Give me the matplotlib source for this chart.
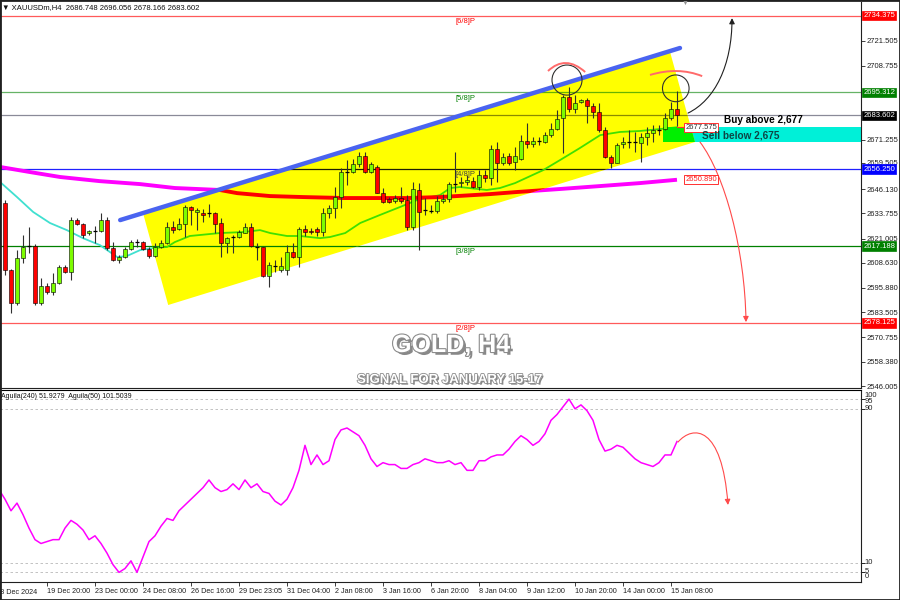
import matplotlib
matplotlib.use('Agg')
import matplotlib.pyplot as plt
import matplotlib.patheffects as pe
import matplotlib.transforms as mtransforms
from matplotlib.patches import Polygon, Rectangle, Ellipse, FancyArrowPatch, PathPatch
from matplotlib.path import Path
from matplotlib.colors import to_rgb

plt.rcParams['font.family'] = ['Liberation Sans', 'DejaVu Sans']

# ---------------- data ----------------
opens = [2639.1, 2605.0, 2588.2, 2611.1, 2617.2, 2617.2, 2588.2, 2596.8, 2593.8, 2598.4,
         2606.5, 2604.0, 2630.4, 2628.4, 2623.8, 2624.8, 2624.8, 2630.4, 2616.2, 2610.1,
         2611.6, 2615.7, 2619.2, 2619.0, 2615.7, 2612.1, 2616.7, 2618.7, 2626.9, 2625.8,
         2628.4, 2637.0, 2634.5, 2634.0, 2634.0, 2634.0, 2628.9, 2618.7, 2621.8, 2621.8,
         2623.8, 2626.9, 2616.7, 2616.7, 2601.9, 2607.0, 2605.0, 2605.0, 2614.1, 2611.6,
         2625.8, 2624.8, 2625.8, 2624.3, 2634.0, 2636.5, 2642.1, 2654.8, 2654.8, 2658.9,
         2662.9, 2654.8, 2657.4, 2644.1, 2641.1, 2640.1, 2641.6, 2640.6, 2626.9, 2645.7,
         2635.5, 2635.0, 2635.0, 2640.1, 2641.1, 2648.7, 2649.2, 2649.7, 2650.2, 2647.2,
         2653.3, 2651.8, 2666.5, 2659.4, 2662.9, 2659.9, 2661.4, 2670.6, 2669.1, 2670.6,
         2670.1, 2673.6, 2676.7, 2682.3, 2693.0, 2686.9, 2690.4, 2691.4, 2688.4, 2685.3,
         2676.2, 2662.4, 2659.4, 2669.1, 2670.1, 2670.1, 2669.6, 2672.6, 2674.7, 2676.2,
         2676.7, 2682.3, 2686.748]
highs = [2640.6, 2605.5, 2615.1, 2622.8, 2626.9, 2618.0, 2600.9, 2598.4, 2603.5, 2607.5,
         2607.5, 2631.9, 2631.4, 2629.0, 2625.3, 2627.4, 2634.0, 2631.9, 2619.2, 2612.6,
         2616.7, 2620.2, 2620.7, 2619.7, 2616.7, 2618.7, 2620.2, 2629.4, 2630.0, 2631.4,
         2638.0, 2637.5, 2636.5, 2636.0, 2638.5, 2634.3, 2631.4, 2621.8, 2622.8, 2625.3,
         2628.9, 2628.9, 2618.7, 2616.7, 2609.1, 2610.1, 2611.6, 2617.7, 2618.7, 2626.9,
         2627.9, 2626.3, 2626.9, 2636.5, 2638.0, 2647.2, 2656.9, 2660.9, 2661.4, 2665.0,
         2665.0, 2659.9, 2658.4, 2646.7, 2642.1, 2643.1, 2647.2, 2643.1, 2649.7, 2649.2,
         2641.6, 2638.0, 2642.6, 2643.6, 2649.7, 2665.0, 2652.3, 2653.3, 2652.3, 2655.8,
         2655.8, 2668.6, 2670.1, 2664.5, 2664.5, 2667.5, 2673.6, 2679.7, 2672.6, 2672.6,
         2675.2, 2679.7, 2686.4, 2694.0, 2698.0, 2694.0, 2691.9, 2692.4, 2689.9, 2689.9,
         2677.7, 2663.4, 2669.6, 2672.6, 2676.2, 2675.2, 2674.7, 2677.7, 2678.7, 2678.7,
         2684.8, 2690.4, 2696.056]
lows = [2602.4, 2583.1, 2587.2, 2608.5, 2613.6, 2587.2, 2587.2, 2592.8, 2592.3, 2598.0,
        2603.5, 2599.9, 2627.9, 2621.2, 2622.8, 2618.7, 2624.3, 2615.1, 2609.6, 2608.5,
        2611.1, 2615.2, 2616.7, 2615.1, 2611.1, 2611.6, 2616.2, 2618.3, 2624.0, 2625.3,
        2621.8, 2627.9, 2625.3, 2629.4, 2631.9, 2623.8, 2611.6, 2613.6, 2613.6, 2621.2,
        2623.8, 2616.7, 2610.1, 2601.4, 2596.3, 2604.0, 2604.0, 2602.4, 2611.1, 2606.5,
        2622.3, 2623.3, 2622.3, 2622.3, 2631.4, 2631.4, 2636.5, 2648.2, 2654.3, 2657.4,
        2654.3, 2654.3, 2644.1, 2639.1, 2639.1, 2639.1, 2639.1, 2625.3, 2625.3, 2615.1,
        2632.9, 2634.0, 2634.0, 2639.1, 2639.6, 2644.6, 2647.2, 2648.2, 2646.7, 2645.7,
        2649.7, 2648.2, 2649.7, 2658.4, 2658.4, 2655.8, 2660.9, 2667.0, 2667.5, 2668.6,
        2669.6, 2672.6, 2676.2, 2664.5, 2685.3, 2684.8, 2689.9, 2679.7, 2682.3, 2675.2,
        2661.9, 2656.9, 2659.4, 2667.0, 2667.0, 2665.0, 2659.9, 2668.6, 2670.1, 2673.6,
        2676.2, 2681.3, 2678.166]
closes = [2605.0, 2588.2, 2611.1, 2616.7, 2617.0, 2588.2, 2596.8, 2593.8, 2598.4, 2606.5,
          2604.0, 2630.4, 2628.4, 2622.8, 2624.8, 2624.6, 2630.4, 2616.2, 2610.1, 2611.6,
          2615.7, 2619.2, 2619.0, 2615.7, 2612.1, 2616.7, 2618.7, 2626.9, 2625.3, 2628.4,
          2637.0, 2635.5, 2635.5, 2632.9, 2633.8, 2628.4, 2618.7, 2621.2, 2621.6, 2624.3,
          2626.9, 2617.2, 2616.5, 2601.9, 2607.5, 2606.8, 2607.0, 2614.1, 2611.6, 2625.8,
          2624.3, 2624.3, 2624.3, 2634.0, 2636.5, 2642.1, 2654.8, 2655.0, 2658.9, 2662.9,
          2654.8, 2658.9, 2644.1, 2639.6, 2639.6, 2641.6, 2640.1, 2626.9, 2646.2, 2634.5,
          2635.3, 2635.2, 2640.1, 2641.1, 2648.7, 2648.9, 2649.7, 2650.8, 2647.2, 2653.3,
          2651.8, 2666.5, 2659.4, 2662.4, 2659.4, 2662.9, 2670.6, 2669.1, 2670.6, 2670.8,
          2673.6, 2676.7, 2681.8, 2693.0, 2686.9, 2689.9, 2691.4, 2688.4, 2685.3, 2676.2,
          2662.4, 2659.4, 2668.6, 2670.1, 2670.3, 2670.0, 2672.6, 2674.7, 2676.2, 2676.4,
          2682.3, 2686.7, 2683.602]

ma_fast_x = [-0.8, 2, 4.7, 7.5, 10.3, 13, 15.8, 18.7, 20.3, 22.5, 24.7, 27, 28.3, 30.8, 35.8,
             39.7, 42.5, 44.2, 47, 49.2, 52.5, 54.2, 56.7, 59.2, 62.5, 65.8, 68.7, 72.5, 74.2,
             75.8, 80.3, 82.5, 85, 89.7, 92.5, 95.8, 99.2, 102.5, 105.8, 109.2, 112]
ma_fast_y = [2649.7, 2642.1, 2634.5, 2628.9, 2625.3, 2621.2, 2617.7, 2611.6, 2612.1, 2615.1,
             2616.2, 2616.7, 2619.2, 2622.3, 2623.8, 2624.3, 2625.3, 2623.8, 2622.3, 2622.3,
             2621.2, 2621.8, 2623.8, 2628.9, 2633.0, 2637.0, 2640.6, 2643.1, 2646.7, 2647.2,
             2645.7, 2646.7, 2649.2, 2655.8, 2660.9, 2667.0, 2673.6, 2675.2, 2675.7, 2676.7,
             2677.6]
ma_slow_x = [-0.8, 4.2, 9.2, 15.8, 22.5, 28.3, 35.8, 38.7, 44.2, 49.7, 56.7, 67, 72.5, 80.8,
             85, 92.5, 99.2, 105.8, 112]
ma_slow_y = [2657.4, 2654.8, 2652.3, 2650.2, 2648.7, 2646.7, 2645.7, 2644.1, 2642.6, 2642.1,
             2641.6, 2641.6, 2642.1, 2643.6, 2644.6, 2646.2, 2647.7, 2649.2, 2650.9]

osc_x = list(range(-1, 113))
osc_y = [48, 43, 37, 41, 35, 28, 22, 20, 21, 22, 22, 28, 32, 30, 27, 22, 24, 20, 15, 9,
         5, 7, 11, 5, 13, 21, 24, 29, 33, 32, 37, 40, 43, 46, 49, 53, 49, 47, 48, 51,
         48, 53, 49, 51, 47, 46, 42, 40, 43, 49, 58, 71, 61, 66, 61, 63, 74, 79, 80, 78,
         76, 71, 64, 60, 62, 61, 61, 59, 59, 61, 62, 64, 63, 62, 62, 63, 61, 62, 58, 58,
         63, 63, 65, 66, 66, 69, 73, 76, 74, 71, 73, 77, 84, 87, 91, 95, 90, 92, 89, 84,
         74, 68, 69, 71, 70, 67, 64, 62, 61, 60, 62, 66, 66, 73]

levels = [2734.375, 2695.312, 2683.602, 2656.250, 2617.188, 2578.125]
level_line_colors = ['#ff5a5a', '#66b366', '#8a8a98', '#2020ff', '#008000', '#ff5a5a']
level_box_colors = ['#ff0000', '#008000', '#000000', '#0000ff', '#008000', '#ff0000']
murray_labels = ['[6/8]P', '[5/8]P', '[4/8]P', '[3/8]P', '[2/8]P']
murray_levels = [2734.375, 2695.312, 2656.250, 2617.188, 2578.125]
murray_colors = ['#ff0000', '#008000', '#404040', '#008000', '#ff0000']

price_ticks = [2721.505, 2708.755, 2671.255, 2659.505, 2646.130, 2633.755, 2621.005,
               2608.630, 2595.880, 2583.505, 2570.755, 2558.380, 2546.005]
x_tick_idx = [7, 15, 23, 31, 39, 47, 55, 63, 71, 79, 87, 95, 103, 111]
x_tick_labels = ['19 Dec 20:00', '23 Dec 00:00', '24 Dec 08:00', '26 Dec 16:00',
                 '29 Dec 23:05', '31 Dec 04:00', '2 Jan 08:00', '3 Jan 16:00',
                 '6 Jan 20:00', '8 Jan 04:00', '9 Jan 12:00', '10 Jan 20:00',
                 '14 Jan 00:00', '15 Jan 08:00']

channel_x = [23.0, 110.8, 115.0, 27.2]
channel_y = [2634.0, 2716.4, 2670.1, 2587.2]
trend_x = [19.2, 112.5]
trend_y = [2630.4, 2717.9]
zone_low, zone_high = 2670.2, 2677.575

# ---------------- figure ----------------
W, H = 900, 600
fig = plt.figure(figsize=(9, 6), dpi=100)
fx = lambda px: px / W
fy = lambda py: 1 - py / H

ax = fig.add_axes([0, fy(388), 861 / W, (388 - 2) / H])
ax2 = fig.add_axes([0, fy(582), 861 / W, (582 - 389.5) / H])
XL = (-0.833, 142.67)
ax.set_xlim(*XL)
ax2.set_xlim(*XL)
ax.set_ylim(2545.0, 2741.3)
ax2.set_ylim(0, 100)


def mult(c):
    r, g, b = to_rgb(c)
    return (r * 1.0, g * 1.0, 0.0)


# yellow channel
chan = Polygon(list(zip(channel_x, channel_y)), closed=True, fc='#ffff00', ec='none', zorder=2)
ax.add_patch(chan)

# horizontal levels
for lv, lc in zip(levels, level_line_colors):
    ax.axhline(lv, color=lc, lw=0.9, zorder=1)
    l2 = ax.axhline(lv, color=mult(lc), lw=0.9, zorder=3)
    l2.set_clip_path(chan)

# MA lines
ax.plot(ma_fast_x, ma_fast_y, color='#40e0d0', lw=1.3, zorder=1)
lf, = ax.plot(ma_fast_x, ma_fast_y, color=mult('#40e0d0'), lw=1.3, zorder=3)
lf.set_clip_path(chan)
ax.plot(ma_slow_x, ma_slow_y, color='#ff00ff', lw=2.8, zorder=1, solid_capstyle='butt')
ls, = ax.plot(ma_slow_x, ma_slow_y, color=mult('#ff00ff'), lw=2.8, zorder=3, solid_capstyle='butt')
ls.set_clip_path(chan)

# sell/buy zone
ax.add_patch(Rectangle((109.7, zone_low), XL[1] - 109.7, zone_high - zone_low,
                       fc='#00f0d8', ec='none', zorder=1.5))
zr = Rectangle((109.7, zone_low), XL[1] - 109.7, zone_high - zone_low,
               fc=mult('#00f0d8'), ec='none', zorder=3)
ax.add_patch(zr)
zr.set_clip_path(chan)

# candles
n = len(opens)
xs = list(range(n))
ax.vlines(xs, lows, highs, color='#303030', lw=0.8, zorder=4)
for i in range(n):
    o, c = opens[i], closes[i]
    if abs(c - o) < 0.4:
        ax.hlines((o + c) / 2, i - 0.38, i + 0.38, color='black', lw=0.9, zorder=5)
    else:
        col = '#7cfc00' if c > o else '#ff0000'
        ax.add_patch(Rectangle((i - 0.36, min(o, c)), 0.72, abs(c - o), fc=col,
                               ec='black', lw=0.4, zorder=5))

# trendline
ax.plot(trend_x, trend_y, color='#4a64f0', lw=3.2, zorder=6, solid_capstyle='round')

# murray labels
for lab, lv, col in zip(murray_labels, murray_levels, murray_colors):
    ax.annotate(lab, (76.7, lv), xytext=(0, -1.5), textcoords='offset points',
                ha='center', va='top', fontsize=5.5, color=col, zorder=7)

# circles and arcs
ax.add_patch(Ellipse((93.67, 2701.6), 5.0, 15.3, fill=False, ec='#303030', lw=0.8, zorder=7))
ax.add_patch(Ellipse((111.8, 2697.4), 4.43, 13.6, fill=False, ec='#303030', lw=0.8, zorder=7))
for (p0, c1, p2) in [((90.5, 2706.2), (93.4, 2714.6), (96.7, 2705.7)),
                     ((107.5, 2704.2), (112.2, 2708.5), (116.2, 2703.6))]:
    ax.add_patch(PathPatch(Path([p0, c1, p2], [Path.MOVETO, Path.CURVE3, Path.CURVE3]),
                           fill=False, ec='#ff6b6b', lw=1.4, zorder=7))

# arrows
curve = [Path.MOVETO, Path.CURVE4, Path.CURVE4, Path.CURVE4]
ax.add_patch(FancyArrowPatch(path=Path([(113.83, 2684.8), (118.33, 2691.4), (121.17, 2709.2),
                                        (121.17, 2733.1)], curve),
                             arrowstyle='-|>', mutation_scale=8, color='#202020', lw=0.8, zorder=8))
ax.add_patch(FancyArrowPatch(path=Path([(115.83, 2670.1), (120.0, 2653.3), (123.33, 2615.1),
                                        (123.5, 2578.5)], curve),
                             arrowstyle='-|>', mutation_scale=8, color='#ff4a4a', lw=0.8, zorder=8))
ax2.add_patch(FancyArrowPatch(path=Path([(112.17, 72.7), (114.67, 81.6), (119.5, 81.6),
                                         (120.5, 40.0)], curve),
                              arrowstyle='-|>', mutation_scale=8, color='#ff4a4a', lw=0.8, zorder=8))

# price marker labels
ax.plot([112, 113.3], [zone_high, zone_high], color='#ff3030', lw=0.8, zorder=8)
ax.text(113.4, zone_high, '2677.575', fontsize=5.5, color='#303030', ha='left', va='center',
        bbox=dict(boxstyle='square,pad=0.12', fc='white', ec='#ff3030', lw=0.7), zorder=9)
ax.text(113.4, 2650.89, '2650.890', fontsize=5.5, color='#ff2020', ha='left', va='center',
        bbox=dict(boxstyle='square,pad=0.12', fc='white', ec='#ff3030', lw=0.7), zorder=9)

ax.text(119.8, 2681.3, 'Buy above 2,677', fontsize=7.2, fontweight='bold', color='black',
        ha='left', va='center', zorder=9)
ax.text(116.2, 2673.6, 'Sell below 2,675', fontsize=7.2, fontweight='bold', color='#0d4545',
        ha='left', va='center', zorder=9)

# axes styling main
for a in (ax, ax2):
    a.spines['top'].set_visible(False)
    for s in ('left', 'right', 'bottom'):
        a.spines[s].set_color('#202020')
        a.spines[s].set_linewidth(0.8)
ax2.spines['top'].set_visible(True)
ax2.spines['top'].set_linewidth(0.8)
ax.yaxis.tick_right()
ax.set_yticks(price_ticks)
ax.set_yticklabels([f'{v:.3f}' for v in price_ticks])
ax.tick_params(axis='y', direction='out', length=3, width=0.6, pad=1, labelsize=5.5,
               colors='#202020')
ax.tick_params(axis='x', bottom=False, labelbottom=False)

blend = mtransforms.blended_transform_factory(ax.transAxes, ax.transData)
for lv, bc in zip(levels, level_box_colors):
    ax.text(1.0025, lv, f'{lv:.3f}', transform=blend, fontsize=5.5, color='white',
            ha='left', va='center', clip_on=False, zorder=20,
            bbox=dict(boxstyle='square,pad=0.18', fc=bc, ec=bc, lw=0.5))

# lower panel
ax2.plot(osc_x, osc_y, color='#ff00ff', lw=1.1, zorder=4)
for v in (5, 10, 90, 95):
    ax2.axhline(v, color='#b8b8b8', lw=0.6, ls=(0, (3, 3)), zorder=1)
ax2.yaxis.tick_right()
ax2.set_yticks([5, 10, 90, 95])
ax2.set_yticklabels([])
ax2.tick_params(axis='y', direction='out', length=3, width=0.6)
blend2 = mtransforms.blended_transform_factory(ax2.transAxes, ax2.transData)
for lab, pos in [('100', 97.1), ('95', 94.0), ('90', 89.9), ('10', 9.9), ('5', 5.7), ('0', 2.6)]:
    ax2.text(1.004, pos, lab, transform=blend2, fontsize=5.5, color='#202020',
             ha='left', va='center', clip_on=False)

ax2.set_xticks(x_tick_idx)
ax2.set_xticklabels(x_tick_labels)
ax2.tick_params(axis='x', direction='out', length=3, width=0.6, pad=1, labelsize=5.2,
                colors='#202020')
for t in ax2.get_xticklabels():
    t.set_ha('left')
blendx = mtransforms.blended_transform_factory(ax2.transData, ax2.transAxes)
ax2.text(-1.45, -0.055, '18 Dec 2024', transform=blendx, fontsize=5.2, color='#202020',
         ha='left', va='center', clip_on=False)

# headers
fig.text(fx(2), fy(8), '\u25bc XAUUSDm,H4  2686.748 2696.056 2678.166 2683.602', fontsize=5.5,
         ha='left', va='center', color='#101010')
fig.text(fx(1), fy(397), 'Aguila(240) 51.9279  Aguila(50) 101.5039', fontsize=5,
         ha='left', va='center', color='#101010')
fig.text(fx(685), fy(3), '\u25bc', fontsize=5, color='#909090', ha='center', va='center')

fx_effects = [pe.SimplePatchShadow(offset=(2, -2), shadow_rgbFace='#6a6a6a', alpha=0.8),
              pe.Stroke(linewidth=1.6, foreground='#8c8c8c'), pe.Normal()]
fig.text(fx(451), fy(345), 'GOLD, H4', fontsize=18, fontweight='bold', color='white',
         ha='center', va='center', path_effects=fx_effects)
fig.text(fx(450), fy(380), 'SIGNAL FOR JANUARY 15-17', fontsize=9.5, fontweight='bold',
         color='white', ha='center', va='center',
         path_effects=[pe.SimplePatchShadow(offset=(1.2, -1.2), shadow_rgbFace='#6a6a6a', alpha=0.8),
                       pe.Stroke(linewidth=1.2, foreground='#8c8c8c'), pe.Normal()])

fig.patches.append(Rectangle((0, 0), 1, 1, transform=fig.transFigure, fill=False,
                             ec='#202020', lw=2.0))

fig.savefig('out.png', dpi=100)
